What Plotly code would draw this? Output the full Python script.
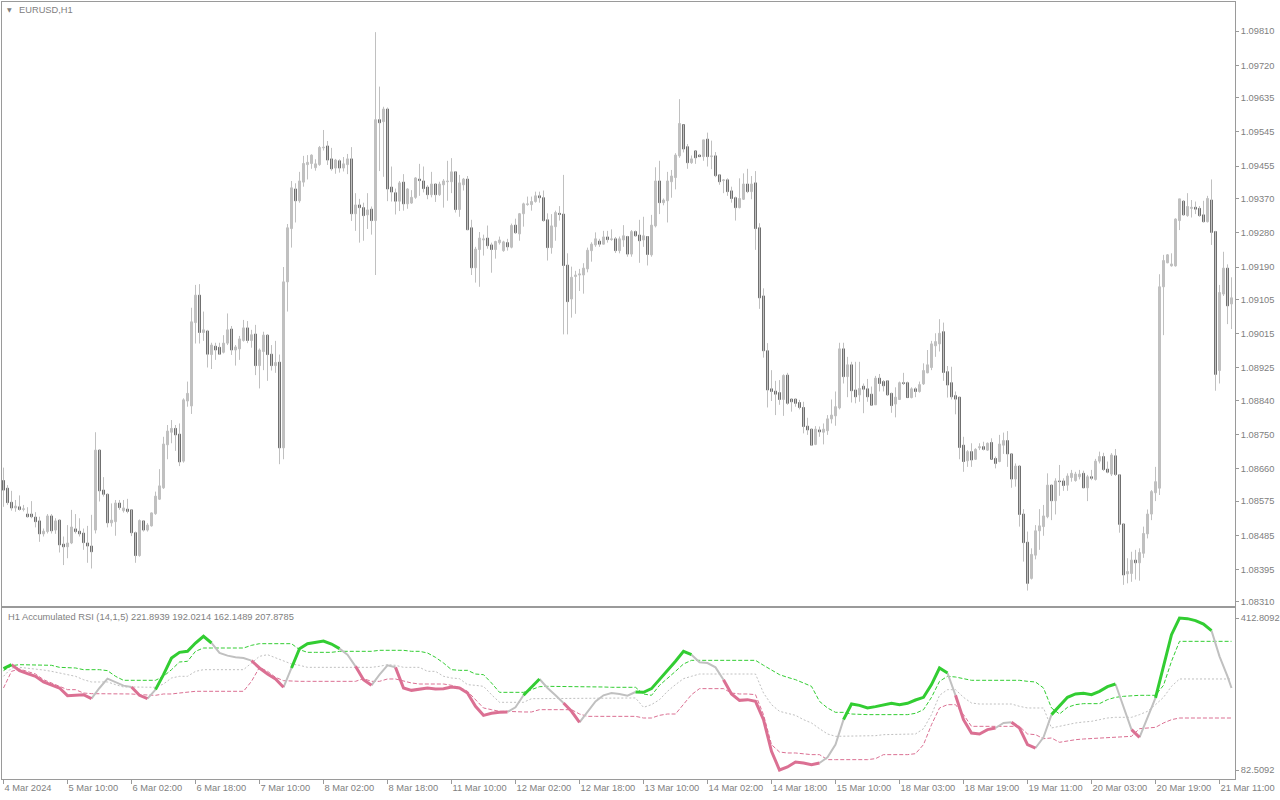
import plotly.graph_objects as go

SYMBOL_LABEL = "EURUSD,H1"
INDICATOR_LABEL = "H1 Accumulated RSI (14,1,5) 221.8939 192.0214 162.1489 207.8785"

opens = [
    1.08629, 1.08609, 1.08572, 1.08557, 1.08560, 1.08553, 1.08541, 1.08541, 1.08533, 1.08523,
    1.08489, 1.08495, 1.08536, 1.08499, 1.08525, 1.08462, 1.08455, 1.08465, 1.08502, 1.08496,
    1.08491, 1.08465, 1.08457, 1.08499, 1.08709, 1.08604, 1.08593, 1.08518, 1.08521, 1.08570,
    1.08550, 1.08554, 1.08552, 1.08492, 1.08432, 1.08523, 1.08499, 1.08510, 1.08542, 1.08580,
    1.08610, 1.08723, 1.08756, 1.08766, 1.08751, 1.08680, 1.08838, 1.08825, 1.09044, 1.09116,
    1.09018, 1.09022, 1.08960, 1.08982, 1.08979, 1.08966, 1.08990, 1.09027, 1.08972, 1.08975,
    1.08997, 1.09030, 1.08997, 1.09014, 1.08931, 1.08968, 1.09011, 1.08961, 1.08931, 1.08940,
    1.08715, 1.09151, 1.09291, 1.09395, 1.09364, 1.09413, 1.09459, 1.09462, 1.09451, 1.09459,
    1.09503, 1.09508, 1.09474, 1.09450, 1.09469, 1.09450, 1.09459, 1.09474, 1.09330, 1.09353,
    1.09346, 1.09327, 1.09342, 1.09312, 1.09577, 1.09572, 1.09605, 1.09400, 1.09385, 1.09363,
    1.09413, 1.09356, 1.09358, 1.09373, 1.09421, 1.09416, 1.09400, 1.09380, 1.09408, 1.09380,
    1.09406, 1.09414, 1.09414, 1.09440, 1.09341, 1.09406, 1.09421, 1.09293, 1.09188, 1.09236,
    1.09261, 1.09266, 1.09248, 1.09236, 1.09254, 1.09233, 1.09254, 1.09242, 1.09300, 1.09277,
    1.09330, 1.09354, 1.09354, 1.09362, 1.09377, 1.09372, 1.09314, 1.09241, 1.09296, 1.09331,
    1.09329, 1.09195, 1.09106, 1.09165, 1.09169, 1.09169, 1.09185, 1.09233, 1.09248, 1.09258,
    1.09250, 1.09269, 1.09262, 1.09264, 1.09233, 1.09261, 1.09270, 1.09224, 1.09283, 1.09274,
    1.09261, 1.09270, 1.09222, 1.09298, 1.09416, 1.09359, 1.09364, 1.09414, 1.09425, 1.09482,
    1.09564, 1.09506, 1.09464, 1.09495, 1.09484, 1.09480, 1.09526, 1.09480, 1.09482, 1.09432,
    1.09417, 1.09419, 1.09390, 1.09372, 1.09346, 1.09368, 1.09408, 1.09388, 1.09411, 1.09293,
    1.09114, 1.08970, 1.08870, 1.08864, 1.08860, 1.08842, 1.08906, 1.08843, 1.08843, 1.08834,
    1.08821, 1.08772, 1.08764, 1.08724, 1.08762, 1.08756, 1.08760, 1.08791, 1.08799, 1.08820,
    1.08975, 1.08902, 1.08933, 1.08867, 1.08854, 1.08877, 1.08870, 1.08856, 1.08828, 1.08898,
    1.08889, 1.08891, 1.08858, 1.08830, 1.08842, 1.08886, 1.08886, 1.08847, 1.08870, 1.08863,
    1.08883, 1.08912, 1.08926, 1.08983, 1.08988, 1.09020, 1.08915, 1.08886, 1.08852, 1.08848,
    1.08722, 1.08681, 1.08705, 1.08685, 1.08715, 1.08718, 1.08709, 1.08729, 1.08687, 1.08679,
    1.08722, 1.08734, 1.08699, 1.08633, 1.08667, 1.08541, 1.08467, 1.08372, 1.08433, 1.08497,
    1.08508, 1.08534, 1.08617, 1.08576, 1.08628, 1.08628, 1.08617, 1.08637, 1.08629, 1.08639,
    1.08648, 1.08610, 1.08639, 1.08632, 1.08680, 1.08692, 1.08659, 1.08646, 1.08694, 1.08644,
    1.08515, 1.08384, 1.08385, 1.08420, 1.08413, 1.08438, 1.08489, 1.08541, 1.08597, 1.08609,
    1.09138, 1.09201, 1.09193, 1.09193, 1.09312, 1.09363, 1.09325, 1.09344, 1.09347, 1.09344,
    1.09327, 1.09309, 1.09366, 1.09283, 1.08918, 1.09119, 1.09187, 1.09093,
]

highs = [
    1.08663, 1.08617, 1.08602, 1.08578, 1.08590, 1.08565, 1.08559, 1.08575, 1.08546, 1.08534,
    1.08503, 1.08541, 1.08541, 1.08530, 1.08527, 1.08482, 1.08512, 1.08552, 1.08541, 1.08530,
    1.08503, 1.08510, 1.08539, 1.08756, 1.08712, 1.08638, 1.08595, 1.08569, 1.08578, 1.08578,
    1.08578, 1.08581, 1.08553, 1.08495, 1.08527, 1.08525, 1.08517, 1.08545, 1.08600, 1.08659,
    1.08744, 1.08775, 1.08788, 1.08775, 1.08779, 1.08845, 1.08889, 1.09083, 1.09143, 1.09145,
    1.09073, 1.09025, 1.08991, 1.08991, 1.08991, 1.09011, 1.09068, 1.09035, 1.08985, 1.09009,
    1.09051, 1.09048, 1.09025, 1.09038, 1.08976, 1.09020, 1.09014, 1.08985, 1.08996, 1.08960,
    1.09190, 1.09303, 1.09416, 1.09410, 1.09440, 1.09482, 1.09484, 1.09486, 1.09473, 1.09508,
    1.09550, 1.09521, 1.09503, 1.09474, 1.09473, 1.09479, 1.09487, 1.09505, 1.09384, 1.09369,
    1.09359, 1.09384, 1.09349, 1.09807, 1.09664, 1.09611, 1.09609, 1.09454, 1.09396, 1.09416,
    1.09434, 1.09397, 1.09392, 1.09426, 1.09461, 1.09454, 1.09405, 1.09440, 1.09410, 1.09414,
    1.09421, 1.09469, 1.09476, 1.09442, 1.09432, 1.09424, 1.09429, 1.09314, 1.09243, 1.09282,
    1.09275, 1.09299, 1.09254, 1.09259, 1.09270, 1.09259, 1.09264, 1.09304, 1.09317, 1.09332,
    1.09359, 1.09375, 1.09375, 1.09388, 1.09388, 1.09391, 1.09331, 1.09329, 1.09338, 1.09350,
    1.09432, 1.09226, 1.09191, 1.09180, 1.09185, 1.09200, 1.09241, 1.09255, 1.09281, 1.09264,
    1.09285, 1.09285, 1.09289, 1.09269, 1.09270, 1.09300, 1.09272, 1.09287, 1.09286, 1.09314,
    1.09322, 1.09271, 1.09327, 1.09452, 1.09469, 1.09370, 1.09440, 1.09445, 1.09489, 1.09631,
    1.09564, 1.09513, 1.09483, 1.09495, 1.09487, 1.09524, 1.09543, 1.09522, 1.09492, 1.09434,
    1.09421, 1.09423, 1.09401, 1.09375, 1.09423, 1.09436, 1.09448, 1.09429, 1.09442, 1.09305,
    1.09134, 1.08990, 1.08919, 1.08891, 1.08893, 1.08908, 1.08912, 1.08845, 1.08845, 1.08841,
    1.08836, 1.08794, 1.08766, 1.08772, 1.08771, 1.08779, 1.08801, 1.08842, 1.08863, 1.08991,
    1.08991, 1.08954, 1.08941, 1.08941, 1.08941, 1.08884, 1.08896, 1.08876, 1.08904, 1.08909,
    1.08893, 1.08893, 1.08860, 1.08874, 1.08889, 1.08912, 1.08889, 1.08874, 1.08874, 1.08889,
    1.08937, 1.08972, 1.08996, 1.09016, 1.09053, 1.09044, 1.08930, 1.08928, 1.08863, 1.08848,
    1.08744, 1.08709, 1.08727, 1.08714, 1.08727, 1.08731, 1.08729, 1.08740, 1.08692, 1.08749,
    1.08755, 1.08759, 1.08700, 1.08674, 1.08670, 1.08554, 1.08495, 1.08451, 1.08512, 1.08554,
    1.08565, 1.08648, 1.08617, 1.08635, 1.08670, 1.08635, 1.08648, 1.08657, 1.08652, 1.08657,
    1.08655, 1.08644, 1.08657, 1.08686, 1.08705, 1.08702, 1.08679, 1.08701, 1.08712, 1.08646,
    1.08517, 1.08425, 1.08442, 1.08447, 1.08451, 1.08508, 1.08553, 1.08604, 1.08665, 1.09171,
    1.09222, 1.09224, 1.09226, 1.09318, 1.09369, 1.09366, 1.09384, 1.09366, 1.09362, 1.09350,
    1.09364, 1.09377, 1.09420, 1.09285, 1.09143, 1.09230, 1.09197, 1.09163,
]

lows = [
    1.08560, 1.08565, 1.08550, 1.08547, 1.08550, 1.08548, 1.08532, 1.08530, 1.08506, 1.08468,
    1.08482, 1.08490, 1.08490, 1.08489, 1.08440, 1.08407, 1.08425, 1.08462, 1.08490, 1.08482,
    1.08447, 1.08413, 1.08398, 1.08490, 1.08574, 1.08587, 1.08506, 1.08508, 1.08484, 1.08552,
    1.08545, 1.08543, 1.08483, 1.08413, 1.08429, 1.08495, 1.08495, 1.08508, 1.08539, 1.08578,
    1.08607, 1.08685, 1.08727, 1.08707, 1.08667, 1.08676, 1.08823, 1.08804, 1.08989, 1.08989,
    1.08996, 1.08926, 1.08922, 1.08946, 1.08959, 1.08963, 1.08985, 1.08959, 1.08931, 1.08946,
    1.08994, 1.08990, 1.08978, 1.08906, 1.08871, 1.08919, 1.08891, 1.08918, 1.08912, 1.08672,
    1.08685, 1.09073, 1.09241, 1.09307, 1.09359, 1.09401, 1.09420, 1.09448, 1.09443, 1.09456,
    1.09496, 1.09458, 1.09443, 1.09435, 1.09438, 1.09441, 1.09434, 1.09311, 1.09285, 1.09254,
    1.09259, 1.09290, 1.09275, 1.09169, 1.09442, 1.09427, 1.09363, 1.09362, 1.09328, 1.09337,
    1.09338, 1.09343, 1.09356, 1.09369, 1.09377, 1.09386, 1.09368, 1.09373, 1.09361, 1.09377,
    1.09346, 1.09364, 1.09384, 1.09333, 1.09322, 1.09391, 1.09287, 1.09169, 1.09149, 1.09138,
    1.09220, 1.09238, 1.09175, 1.09212, 1.09249, 1.09230, 1.09233, 1.09239, 1.09277, 1.09259,
    1.09296, 1.09351, 1.09338, 1.09359, 1.09359, 1.09309, 1.09207, 1.09225, 1.09259, 1.09312,
    1.09013, 1.09013, 1.09057, 1.09067, 1.09127, 1.09120, 1.09176, 1.09204, 1.09243, 1.09243,
    1.09249, 1.09254, 1.09259, 1.09227, 1.09226, 1.09243, 1.09217, 1.09217, 1.09270, 1.09201,
    1.09243, 1.09194, 1.09217, 1.09294, 1.09329, 1.09352, 1.09307, 1.09372, 1.09394, 1.09477,
    1.09491, 1.09448, 1.09461, 1.09461, 1.09480, 1.09469, 1.09454, 1.09447, 1.09426, 1.09406,
    1.09384, 1.09377, 1.09359, 1.09312, 1.09344, 1.09366, 1.09384, 1.09368, 1.09235, 1.09080,
    1.08952, 1.08821, 1.08838, 1.08801, 1.08828, 1.08799, 1.08828, 1.08810, 1.08823, 1.08816,
    1.08753, 1.08749, 1.08720, 1.08722, 1.08744, 1.08724, 1.08749, 1.08779, 1.08773, 1.08816,
    1.08884, 1.08848, 1.08834, 1.08832, 1.08836, 1.08806, 1.08836, 1.08826, 1.08828, 1.08863,
    1.08863, 1.08851, 1.08807, 1.08795, 1.08841, 1.08880, 1.08847, 1.08845, 1.08848, 1.08860,
    1.08880, 1.08911, 1.08919, 1.08954, 1.08968, 1.08891, 1.08847, 1.08842, 1.08803, 1.08685,
    1.08652, 1.08665, 1.08665, 1.08683, 1.08709, 1.08708, 1.08707, 1.08685, 1.08661, 1.08677,
    1.08699, 1.08665, 1.08610, 1.08613, 1.08508, 1.08416, 1.08340, 1.08369, 1.08422, 1.08447,
    1.08484, 1.08530, 1.08525, 1.08540, 1.08589, 1.08602, 1.08602, 1.08626, 1.08626, 1.08632,
    1.08610, 1.08575, 1.08630, 1.08629, 1.08674, 1.08654, 1.08648, 1.08641, 1.08641, 1.08492,
    1.08355, 1.08359, 1.08363, 1.08369, 1.08366, 1.08426, 1.08477, 1.08525, 1.08575, 1.08591,
    1.09011, 1.09200, 1.09191, 1.09191, 1.09287, 1.09325, 1.09322, 1.09320, 1.09329, 1.09322,
    1.09307, 1.09307, 1.09248, 1.08865, 1.08884, 1.09114, 1.09040, 1.09027,
]

closes = [
    1.08604, 1.08571, 1.08557, 1.08562, 1.08553, 1.08555, 1.08534, 1.08534, 1.08521, 1.08489,
    1.08496, 1.08536, 1.08497, 1.08523, 1.08460, 1.08455, 1.08465, 1.08507, 1.08495, 1.08489,
    1.08466, 1.08457, 1.08442, 1.08709, 1.08602, 1.08593, 1.08518, 1.08525, 1.08570, 1.08558,
    1.08557, 1.08548, 1.08492, 1.08432, 1.08524, 1.08499, 1.08512, 1.08544, 1.08588, 1.08615,
    1.08725, 1.08759, 1.08766, 1.08749, 1.08678, 1.08841, 1.08858, 1.09046, 1.09116, 1.09018,
    1.09025, 1.08961, 1.08985, 1.08972, 1.08961, 1.08990, 1.09025, 1.08972, 1.08980, 1.09001,
    1.09030, 1.08997, 1.09012, 1.08931, 1.08972, 1.09011, 1.08960, 1.08931, 1.08939, 1.08715,
    1.09151, 1.09293, 1.09398, 1.09364, 1.09416, 1.09462, 1.09465, 1.09484, 1.09461, 1.09504,
    1.09505, 1.09471, 1.09448, 1.09471, 1.09450, 1.09461, 1.09474, 1.09330, 1.09353, 1.09346,
    1.09325, 1.09340, 1.09312, 1.09577, 1.09569, 1.09605, 1.09395, 1.09387, 1.09363, 1.09411,
    1.09356, 1.09395, 1.09373, 1.09424, 1.09417, 1.09396, 1.09380, 1.09408, 1.09380, 1.09408,
    1.09416, 1.09416, 1.09440, 1.09341, 1.09411, 1.09421, 1.09288, 1.09188, 1.09237, 1.09266,
    1.09264, 1.09246, 1.09236, 1.09257, 1.09261, 1.09256, 1.09243, 1.09299, 1.09280, 1.09330,
    1.09356, 1.09356, 1.09362, 1.09377, 1.09372, 1.09312, 1.09241, 1.09298, 1.09333, 1.09328,
    1.09194, 1.09099, 1.09163, 1.09169, 1.09172, 1.09187, 1.09234, 1.09250, 1.09264, 1.09250,
    1.09269, 1.09262, 1.09264, 1.09233, 1.09264, 1.09272, 1.09224, 1.09283, 1.09272, 1.09259,
    1.09272, 1.09223, 1.09300, 1.09416, 1.09359, 1.09366, 1.09416, 1.09429, 1.09484, 1.09567,
    1.09500, 1.09464, 1.09474, 1.09477, 1.09480, 1.09524, 1.09480, 1.09482, 1.09430, 1.09414,
    1.09419, 1.09388, 1.09370, 1.09346, 1.09370, 1.09408, 1.09388, 1.09408, 1.09291, 1.09109,
    1.08970, 1.08867, 1.08863, 1.08856, 1.08842, 1.08905, 1.08832, 1.08836, 1.08832, 1.08821,
    1.08771, 1.08762, 1.08722, 1.08764, 1.08757, 1.08764, 1.08791, 1.08801, 1.08823, 1.08975,
    1.08902, 1.08933, 1.08865, 1.08849, 1.08871, 1.08869, 1.08849, 1.08827, 1.08898, 1.08884,
    1.08878, 1.08854, 1.08826, 1.08848, 1.08886, 1.08884, 1.08847, 1.08870, 1.08863, 1.08881,
    1.08918, 1.08933, 1.08988, 1.08994, 1.09016, 1.08913, 1.08880, 1.08849, 1.08843, 1.08716,
    1.08679, 1.08705, 1.08683, 1.08711, 1.08718, 1.08711, 1.08727, 1.08685, 1.08674, 1.08725,
    1.08734, 1.08699, 1.08633, 1.08667, 1.08540, 1.08466, 1.08359, 1.08435, 1.08497, 1.08510,
    1.08536, 1.08617, 1.08576, 1.08628, 1.08626, 1.08616, 1.08641, 1.08648, 1.08646, 1.08646,
    1.08610, 1.08639, 1.08635, 1.08680, 1.08692, 1.08658, 1.08651, 1.08696, 1.08645, 1.08514,
    1.08381, 1.08390, 1.08420, 1.08413, 1.08440, 1.08490, 1.08541, 1.08600, 1.08626, 1.09138,
    1.09207, 1.09222, 1.09198, 1.09316, 1.09369, 1.09327, 1.09349, 1.09347, 1.09342, 1.09325,
    1.09309, 1.09370, 1.09281, 1.08908, 1.09123, 1.09187, 1.09088, 1.09109,
]

price_tick_labels = [
    "1.09810", "1.09720", "1.09635", "1.09545", "1.09455", "1.09370", "1.09280", "1.09190",
    "1.09105", "1.09015", "1.08925", "1.08840", "1.08750", "1.08660", "1.08575", "1.08485",
    "1.08395", "1.08310",
]

date_tick_labels = [
    "4 Mar 2024", "5 Mar 10:00", "6 Mar 02:00", "6 Mar 18:00", "7 Mar 10:00", "8 Mar 02:00",
    "8 Mar 18:00", "11 Mar 10:00", "12 Mar 02:00", "12 Mar 18:00", "13 Mar 10:00",
    "14 Mar 02:00", "14 Mar 18:00", "15 Mar 10:00", "18 Mar 03:00", "18 Mar 19:00",
    "19 Mar 11:00", "20 Mar 03:00", "20 Mar 19:00", "21 Mar 11:00",
]
date_tick_bars = [0, 16, 32, 48, 64, 80, 96, 112, 128, 144, 160, 176, 192, 208, 224, 240,
                  256, 272, 288, 304]

rsi_scale_values = [412.8092, 82.5092]
rsi_scale_labels = ["412.8092", "82.5092"]

rsi_bars = list(range(0, 307, 2)) + [307]

acc_rsi = [
    302.7, 311.4, 298.4, 291.9, 286.1, 273.8, 268.0, 260.7, 244.0, 244.8,
    246.2, 237.5, 260.7, 281.0, 273.8, 265.8, 262.9, 244.8, 237.5, 257.1,
    289.7, 325.9, 338.2, 340.4, 358.5, 373.0, 358.5, 336.8, 331.0, 327.3,
    325.9, 320.1, 304.2, 291.1, 280.3, 262.2, 304.2, 346.2, 357.0, 360.7,
    362.8, 356.3, 346.2, 333.1, 307.8, 278.8, 266.5, 289.7, 310.0, 305.6,
    260.7, 255.6, 257.8, 260.7, 258.5, 259.3, 262.9, 260.7, 249.8, 220.9,
    201.3, 205.7, 207.8, 208.6, 218.7, 244.8, 262.9, 280.3, 260.7, 244.8,
    228.1, 210.0, 186.1, 210.0, 231.7, 244.8, 249.8, 247.7, 244.0, 252.0,
    251.3, 259.3, 278.8, 298.4, 318.7, 340.4, 333.1, 316.5, 315.0, 305.6,
    278.8, 247.7, 233.9, 235.4, 231.7, 191.9, 123.1, 82.5, 89.0, 99.9,
    97.7, 94.1, 97.7, 110.0, 137.6, 191.9, 225.9, 223.0, 217.3, 220.2,
    224.5, 227.4, 224.5, 227.4, 234.6, 240.4, 268.0, 304.2, 293.3, 244.8,
    191.9, 162.9, 160.8, 170.2, 173.8, 184.7, 186.1, 173.8, 137.6, 130.3,
    153.5, 202.8, 220.9, 240.4, 247.7, 249.1, 246.2, 253.5, 263.6, 269.4,
    217.3, 170.2, 153.5, 195.5, 239.0, 307.8, 376.6, 412.8, 411.4, 407.0,
    399.8, 385.3, 329.5, 286.1, 260.7,
]

band_upper = [
    298.4, 309.2, 311.4, 311.4, 311.4, 310.0, 310.0, 305.6, 305.6, 304.2,
    300.5, 300.5, 300.5, 298.4, 286.1, 277.4, 277.4, 277.4, 277.4, 277.4,
    286.1, 300.5, 317.2, 318.7, 340.4, 347.6, 347.6, 347.6, 347.6, 347.6,
    347.6, 353.4, 357.0, 357.0, 357.0, 357.0, 357.0, 344.0, 338.2, 338.2,
    338.2, 338.2, 340.4, 340.4, 340.4, 340.4, 340.4, 342.6, 342.6, 342.6,
    342.6, 340.4, 340.4, 336.8, 327.3, 315.0, 300.5, 299.1, 299.1, 291.1,
    289.7, 271.6, 251.3, 251.3, 251.3, 251.3, 257.1, 263.6, 264.3, 264.3,
    264.3, 263.6, 262.9, 262.9, 262.9, 262.9, 262.2, 262.2, 262.2, 262.2,
    247.7, 244.8, 266.5, 281.0, 296.9, 312.9, 320.8, 320.8, 320.8, 320.8,
    320.8, 320.8, 320.8, 320.8, 320.8, 310.0, 300.5, 289.7, 283.9, 278.8,
    271.6, 264.3, 231.7, 217.3, 207.8, 207.8, 204.2, 202.8, 202.8, 202.8,
    202.8, 202.8, 202.8, 202.8, 205.7, 213.6, 240.4, 275.2, 286.1, 284.6,
    281.0, 277.4, 277.4, 277.4, 277.4, 277.4, 277.4, 277.4, 275.2, 273.8,
    260.7, 217.3, 204.2, 218.7, 224.5, 226.7, 226.7, 226.7, 235.4, 240.4,
    242.6, 244.1, 244.8, 244.8, 244.8, 266.5, 318.7, 362.1, 362.1, 362.1,
    362.1, 362.1, 362.1, 362.1, 362.1,
]

band_middle = [
    286.1, 304.2, 305.6, 304.2, 302.0, 299.8, 296.9, 293.3, 289.7, 286.1,
    278.8, 273.8, 273.8, 273.8, 268.0, 262.9, 262.9, 262.2, 262.2, 262.2,
    269.4, 282.4, 286.1, 286.1, 296.9, 300.5, 300.5, 300.5, 300.5, 300.5,
    300.5, 315.0, 329.5, 333.1, 325.9, 318.7, 312.9, 310.0, 305.6, 305.6,
    305.6, 305.6, 305.6, 305.6, 305.6, 305.6, 305.6, 307.8, 311.4, 310.0,
    305.6, 305.6, 305.6, 296.9, 296.9, 286.1, 282.4, 281.0, 268.0, 266.5,
    264.3, 246.2, 229.6, 229.6, 229.6, 229.6, 237.5, 237.5, 237.5, 237.5,
    237.5, 237.5, 237.5, 239.0, 239.0, 239.0, 239.0, 239.0, 239.0, 239.0,
    218.7, 224.5, 235.4, 253.5, 268.0, 281.0, 286.1, 291.1, 291.1, 291.1,
    291.1, 291.1, 291.1, 291.1, 291.1, 249.8, 224.5, 210.0, 206.4, 201.3,
    191.9, 184.7, 172.3, 160.8, 155.7, 155.7, 155.7, 155.7, 155.7, 157.1,
    159.3, 159.3, 159.3, 159.3, 160.8, 172.3, 202.8, 244.8, 257.1, 257.1,
    240.4, 228.1, 225.9, 225.9, 225.9, 225.9, 225.9, 220.9, 217.3, 217.3,
    217.3, 173.8, 177.4, 182.5, 184.7, 186.8, 188.3, 191.9, 195.5, 197.0,
    197.0, 197.0, 202.8, 210.0, 224.5, 240.4, 264.3, 280.3, 280.3, 280.3,
    280.3, 280.3, 280.3, 280.3, 280.3,
]

band_lower = [
    260.7, 296.9, 302.0, 296.9, 291.1, 278.8, 271.6, 264.3, 257.1, 257.1,
    249.8, 248.4, 248.4, 248.4, 248.4, 248.4, 247.7, 246.2, 244.8, 244.8,
    247.7, 247.7, 249.8, 252.0, 253.5, 253.5, 253.5, 253.5, 253.5, 253.5,
    253.5, 275.2, 305.6, 296.9, 283.9, 276.6, 275.2, 275.2, 275.2, 275.2,
    275.2, 275.2, 275.2, 275.2, 275.2, 281.0, 275.2, 275.2, 280.3, 280.3,
    275.2, 271.6, 269.4, 269.4, 269.4, 269.4, 266.5, 262.2, 253.5, 235.4,
    217.3, 213.6, 210.0, 210.0, 208.6, 208.6, 208.6, 213.6, 213.6, 213.6,
    213.6, 213.6, 204.2, 199.1, 199.1, 199.1, 199.1, 199.1, 199.1, 199.1,
    195.5, 195.5, 201.3, 204.2, 204.2, 224.5, 246.2, 259.3, 259.3, 259.3,
    259.3, 249.8, 247.7, 247.7, 246.2, 202.8, 137.6, 121.6, 119.5, 119.5,
    117.3, 115.9, 115.9, 105.0, 105.0, 105.0, 105.0, 105.0, 105.0, 107.2,
    115.9, 115.9, 115.9, 115.9, 118.0, 137.6, 181.0, 217.3, 224.5, 224.5,
    202.8, 177.4, 177.4, 177.4, 177.4, 177.4, 177.4, 177.4, 160.8, 159.3,
    150.6, 152.1, 142.7, 146.3, 148.4, 149.9, 150.6, 152.1, 153.5, 154.2,
    154.2, 155.7, 172.3, 173.8, 175.2, 184.7, 191.9, 195.5, 195.5, 195.5,
    195.5, 195.5, 195.5, 195.5, 195.5,
]

# ---------------- styling / geometry ----------------
W, H = 1280, 800
PLOT_L, PLOT_R = 2, 1235          # px
MAIN_T, MAIN_B = 2, 606           # px
IND_T, IND_B = 608, 779           # px
BAR_PX, BAR0_PX = 4.0, 3.5        # bar spacing and first-bar centre (px)
PRICE_REF, PRICE_REF_Y, PRICE_PER_PX = 1.09810, 31.0, 2.627e-5
RSI_REF, RSI_REF_Y, RSI_PER_PX = 412.8092, 618.0, 2.173

BULL = "#c0c0c0"
BEAR = "#707070"
WICK = "#c0c0c0"
FRAME = "#9a9a9a"
TEXT = "#808080"
GREEN = "#32cd32"
PINK = "#db7093"
SILVER = "#c0c0c0"
FONT = "Liberation Sans, Arial, sans-serif"
FS = 9.3

n = min(len(opens), len(highs), len(lows), len(closes))
bars = list(range(n))

x_range = [(PLOT_L - BAR0_PX) / BAR_PX, (PLOT_R - BAR0_PX) / BAR_PX]
price_at = lambda py: PRICE_REF - (py - PRICE_REF_Y) * PRICE_PER_PX
rsi_at = lambda py: RSI_REF - (py - RSI_REF_Y) * RSI_PER_PX

fig = go.Figure()

# wicks
wx, wy = [], []
for i in bars:
    wx += [i, i, None]
    wy += [lows[i], highs[i], None]
fig.add_trace(go.Scatter(x=wx, y=wy, mode="lines", line=dict(color=WICK, width=1),
                         xaxis="x", yaxis="y", hoverinfo="skip"))

# bodies
body_base = [min(opens[i], closes[i]) for i in bars]
body_h = [abs(closes[i] - opens[i]) for i in bars]
body_col = [BULL if closes[i] >= opens[i] else BEAR for i in bars]
fig.add_trace(go.Bar(x=bars, y=body_h, base=body_base, width=0.5,
                     marker=dict(color=body_col, line=dict(color=body_col, width=1)),
                     xaxis="x", yaxis="y", hoverinfo="skip"))

# indicator bands
fig.add_trace(go.Scatter(x=rsi_bars, y=band_upper, mode="lines",
                         line=dict(color=GREEN, width=1, dash="4px,2px"),
                         xaxis="x2", yaxis="y2", hoverinfo="skip"))
fig.add_trace(go.Scatter(x=rsi_bars, y=band_middle, mode="lines",
                         line=dict(color=SILVER, width=1, dash="2px,2px"),
                         xaxis="x2", yaxis="y2", hoverinfo="skip"))
fig.add_trace(go.Scatter(x=rsi_bars, y=band_lower, mode="lines",
                         line=dict(color=PINK, width=1, dash="4px,2px"),
                         xaxis="x2", yaxis="y2", hoverinfo="skip"))

# main line coloured by its position relative to the bands
def zone(m, u, l):
    if m > u:
        return "up"
    if m < l:
        return "down"
    return "mid"

states = [zone(m, u, l) for m, u, l in zip(acc_rsi, band_upper, band_lower)]
runs = {"up": ([], []), "down": ([], []), "mid": ([], [])}
k = 1
while k < len(rsi_bars):
    s = states[k]
    xs, ys = runs[s]
    xs.append(rsi_bars[k - 1]); ys.append(acc_rsi[k - 1])
    while k < len(rsi_bars) and states[k] == s:
        xs.append(rsi_bars[k]); ys.append(acc_rsi[k])
        k += 1
    xs.append(None); ys.append(None)

for key, col, wd in (("mid", SILVER, 2), ("down", PINK, 3), ("up", GREEN, 3)):
    xs, ys = runs[key]
    fig.add_trace(go.Scatter(x=xs, y=ys, mode="lines", connectgaps=False,
                             line=dict(color=col, width=wd),
                             xaxis="x2", yaxis="y2", hoverinfo="skip"))

xdom = [PLOT_L / W, PLOT_R / W]
axis_common = dict(showgrid=False, zeroline=False, showline=True, mirror=True,
                   linecolor=FRAME, linewidth=1, automargin=False, fixedrange=True)

fig.update_layout(
    width=W, height=H,
    margin=dict(l=0, r=0, t=0, b=0),
    paper_bgcolor="white", plot_bgcolor="white",
    showlegend=False, hovermode=False, bargap=0,
    font=dict(family=FONT, size=FS, color=TEXT),
    xaxis=dict(domain=xdom, range=x_range, anchor="y", showticklabels=False, ticks="",
               **axis_common),
    yaxis=dict(domain=[1 - MAIN_B / H, 1 - MAIN_T / H],
               range=[price_at(MAIN_B), price_at(MAIN_T)],
               anchor="x", side="right",
               tickvals=[float(t) for t in price_tick_labels], ticktext=price_tick_labels,
               ticks="outside", ticklen=3, tickcolor=FRAME,
               tickfont=dict(family=FONT, size=FS, color=TEXT),
               **axis_common),
    xaxis2=dict(domain=xdom, range=x_range, anchor="y2",
                tickvals=date_tick_bars, ticktext=date_tick_labels,
                ticks="outside", ticklen=4, tickcolor=FRAME,
                ticklabelposition="outside right",
                tickfont=dict(family=FONT, size=FS, color=TEXT),
                **axis_common),
    yaxis2=dict(domain=[1 - IND_B / H, 1 - IND_T / H],
                range=[rsi_at(IND_B), rsi_at(IND_T)],
                anchor="x2", side="right",
                tickvals=rsi_scale_values, ticktext=rsi_scale_labels,
                ticks="outside", ticklen=3, tickcolor=FRAME,
                tickfont=dict(family=FONT, size=FS, color=TEXT),
                **axis_common),
)

fig.add_annotation(text="\u25BC", x=9 / W, y=1 - 10 / H, xref="paper", yref="paper",
                   xanchor="center", yanchor="middle", showarrow=False,
                   font=dict(family="DejaVu Sans", size=6, color=TEXT))
fig.add_annotation(text=SYMBOL_LABEL, x=17 / W, y=1 - 10 / H, xref="paper", yref="paper",
                   xanchor="left", yanchor="middle", showarrow=False,
                   font=dict(family=FONT, size=FS, color=TEXT))
fig.add_annotation(text=INDICATOR_LABEL, x=6 / W, y=1 - 617 / H, xref="paper", yref="paper",
                   xanchor="left", yanchor="middle", showarrow=False,
                   font=dict(family=FONT, size=FS, color=TEXT))

fig.write_html(
    "out.html",
    config={"displayModeBar": False, "staticPlot": True},
    post_script="document.body.style.margin='0';document.body.style.overflow='hidden';",
)
